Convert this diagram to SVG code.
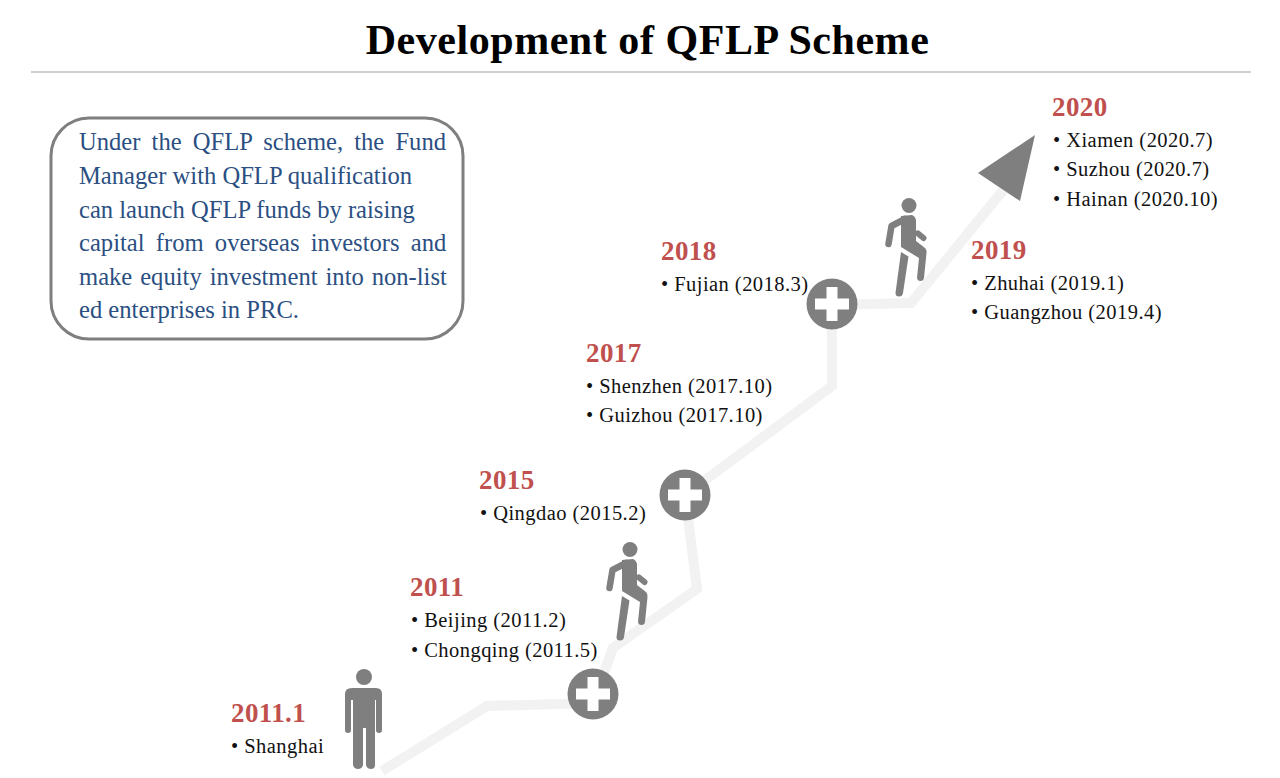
<svg xmlns="http://www.w3.org/2000/svg" width="1280" height="778" viewBox="0 0 1280 778">
<style>
text{font-family:"Liberation Serif","Times New Roman",serif}
.y{font-size:27px;font-weight:700;fill:#c0504d;letter-spacing:.4px}
.i{font-size:20.5px;fill:#111;letter-spacing:.45px}
.b{font-size:24.6px;fill:#2b4f82}
.g{fill:#7f7f7f}
.l{fill:none;stroke:#7f7f7f;stroke-linecap:round;stroke-linejoin:round}
</style>
<defs>
<g id="plus"><circle r="25.5" fill="#7f7f7f"/><path d="M-5.5-17H5.5V-5.5H17V5.5H5.500V17H-5.5V5.5H-17V-5.5H-5.5Z" fill="#fff"/></g>
<g id="walker">
<circle cx="25" cy="7.500" r="7.500" class="g"/>
<path class="g" d="M17 18 L28 17 Q31 18 32 22 L32 43 L41 50 Q43 52 42.500 55 L40 80 Q39.500 83 36.500 83 Q33.500 83 33 80 L35 60 L17 49 Z"/>
<path class="l" stroke-width="6.500" d="M21 21 L7.500 28 L4.500 46"/>
<path class="l" stroke-width="6" d="M34 35.500 L39.500 40"/>
<path class="g" d="M17 54 L24.500 58.500 L19 95 Q18.500 98.500 15 98.500 Q11.500 98.500 11.500 95 Z"/>
</g>
</defs>
<g id="title"><text x="647.500" y="54" text-anchor="middle" font-size="42" font-weight="700" fill="#000" letter-spacing=".55">Development of QFLP Scheme</text><path d="M31 72H1251" stroke="#bfbfbf" stroke-width="1.500"/></g>
<g id="connectors"><path d="M382 771 L487 706 L593 703 L613 648 L697 589 L685 495 L832 386 L832 305 L911 303 L1005 188" fill="none" stroke="#f2f2f2" stroke-width="10"/>
<path id="arrowhead" d="M1035 135 L978 173 L1020 201Z" class="g"/></g>
<g id="info"><rect x="51" y="118" width="412" height="221" rx="38" fill="#fff" stroke="#7f7f7f" stroke-width="3"/>
<text class="b" x="79" y="150" word-spacing="5">Under the QFLP scheme, the Fund</text>
<text class="b" x="79" y="184">Manager with QFLP qualification</text>
<text class="b" x="79" y="218">can launch QFLP funds by raising</text>
<text class="b" x="79" y="251" word-spacing="5.100">capital from overseas investors and</text>
<text class="b" x="79" y="285" word-spacing="1.800">make equity investment into non-list</text>
<text class="b" x="79" y="318">ed enterprises in PRC.</text></g>
<g id="n2011-1"><text class="y" x="231" y="722">2011.1</text><text class="i" x="231" y="753">• Shanghai</text>
<g id="standing"><circle cx="364" cy="677" r="8" class="g"/><path class="g" d="M352 688H376Q382 688 382 694V730Q382 733 379 733Q376 733 376 730V700H375V765Q375 769 371 769Q367 769 366 765V728H363V765Q362 769 358 769Q354 769 353 765V700H351V730Q351 733 348 733Q345 733 345 730V694Q345 688 352 688Z"/></g></g>
<g id="n2011"><text class="y" x="410" y="596">2011</text><text class="i" x="411" y="627">• Beijing (2011.2)</text><text class="i" x="411" y="657">• Chongqing (2011.5)</text></g>
<g id="plus1"><use href="#plus" x="593" y="694"/></g>
<g id="walker1"><use href="#walker" x="605" y="542"/></g>
<g id="n2015"><text class="y" x="479" y="489">2015</text><text class="i" x="480" y="520">• Qingdao (2015.2)</text></g>
<g id="plus2"><use href="#plus" x="685" y="495"/></g>
<g id="n2017"><text class="y" x="586" y="362">2017</text><text class="i" x="586" y="393">• Shenzhen (2017.10)</text><text class="i" x="586" y="422">• Guizhou (2017.10)</text></g>
<g id="n2018"><text class="y" x="661" y="260">2018</text><text class="i" x="661" y="291">• Fujian (2018.3)</text></g>
<g id="plus3"><use href="#plus" x="832" y="304"/></g>
<g id="walker2"><use href="#walker" x="884" y="198"/></g>
<g id="n2019"><text class="y" x="971" y="259">2019</text><text class="i" x="971" y="290">• Zhuhai (2019.1)</text><text class="i" x="971" y="319">• Guangzhou (2019.4)</text></g>
<g id="n2020"><text class="y" x="1052" y="116">2020</text><text class="i" x="1053" y="147">• Xiamen (2020.7)</text><text class="i" x="1053" y="176">• Suzhou (2020.7)</text><text class="i" x="1053" y="206">• Hainan (2020.10)</text></g>
</svg>
